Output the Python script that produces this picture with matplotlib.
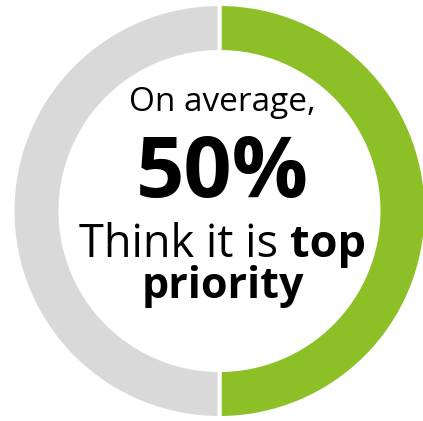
import matplotlib
matplotlib.use("Agg")
import matplotlib.pyplot as plt

categories = ["Top priority", "Other"]
values = [50, 50]
colors = ["#8DC026", "#D9D9D9"]
headline = "50%"
line1 = "On average,"
line3_regular = "Think it is "
line3_bold = "top"
line4 = "priority"

W, H = 423, 421
fig = plt.figure(figsize=(W / 100, H / 100), dpi=100)
ax = fig.add_axes([0, 0, 1, 1])
ax.pie(values, colors=colors, startangle=90, counterclock=False,
       center=(219.5, H - 211), radius=207,
       wedgeprops=dict(width=48, edgecolor="white", linewidth=2.9),
       frame=True)
ax.set_xlim(0, W)
ax.set_ylim(0, H)
ax.axis("off")

fam = "Open Sans"
cx = 222.5
ax.text(cx, H - 111, line1, ha="center", va="baseline", fontsize=24, family=fam)
ax.text(cx, H - 197, headline, ha="center", va="baseline", fontsize=61, family=fam, fontweight="bold")

r = fig.canvas.get_renderer()
t1 = ax.text(0, H - 257, line3_regular, ha="left", va="baseline", fontsize=32.5, family=fam)
t2 = ax.text(0, H - 257, line3_bold, ha="left", va="baseline", fontsize=32.5, family=fam, fontweight="bold")
w1 = t1.get_window_extent(r).width
w2 = t2.get_window_extent(r).width
inv = ax.transData.inverted()
sx = (inv.transform((w1, 0))[0] - inv.transform((0, 0))[0])
sx2 = (inv.transform((w2, 0))[0] - inv.transform((0, 0))[0])
start = cx - (sx + sx2) / 2
t1.set_x(start)
t2.set_x(start + sx)
ax.text(cx, H - 298, line4, ha="center", va="baseline", fontsize=31, family=fam, fontweight="bold")

fig.savefig("out.png", dpi=100)
